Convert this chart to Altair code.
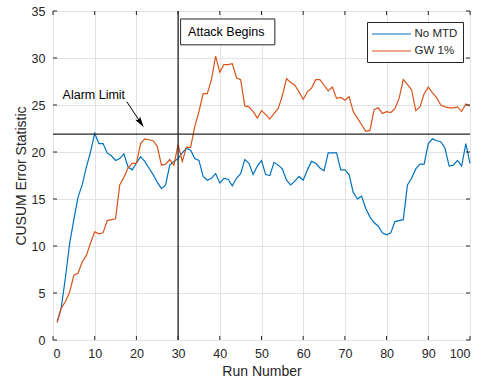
import altair as alt
import pandas as pd

# ---------------- data ----------------
runs = list(range(1, 101))
no_mtd = [1.95, 3.5, 6.7, 10.3, 12.8, 15.2, 16.5, 18.4, 20.0, 22.0,
          20.9, 20.9, 19.9, 19.6, 19.1, 19.3, 19.8, 18.4, 18.1, 18.8,
          19.5, 19.0, 18.3, 17.6, 16.8, 16.1, 16.5, 18.6, 19.0, 19.3,
          19.9, 20.4, 20.2, 19.3, 19.1, 17.4, 17.0, 17.2, 17.7, 16.7,
          17.2, 17.1, 16.4, 17.2, 17.7, 19.2, 18.8, 17.6, 18.5, 19.1,
          17.6, 17.5, 18.9, 18.6, 18.2, 17.0, 16.5, 16.9, 17.4, 17.0,
          18.1, 19.0, 18.8, 18.3, 18.0, 19.9, 19.9, 19.9, 18.1, 18.1,
          17.6, 15.7, 15.0, 15.3, 14.0, 13.1, 12.5, 12.1, 11.4, 11.2,
          11.4, 12.6, 12.7, 12.8, 16.5, 17.2, 18.2, 18.7, 18.7, 20.9,
          21.4, 21.2, 21.1, 20.4, 18.5, 18.6, 19.1, 18.5, 20.9, 18.8]
gw_1 = [1.85, 3.4, 4.1, 5.1, 6.9, 7.1, 8.3, 9.0, 10.3, 11.5,
        11.3, 11.4, 12.7, 12.8, 12.9, 16.5, 17.3, 18.3, 18.8, 18.8,
        20.9, 21.4, 21.3, 21.2, 20.6, 18.6, 18.7, 19.2, 18.6, 20.8,
        19.0, 20.5, 20.5, 22.7, 24.3, 26.2, 26.2, 27.7, 30.2, 28.5,
        29.3, 29.3, 29.4, 27.9, 27.7, 24.9, 24.8, 24.3, 23.6, 24.4,
        24.0, 23.5, 24.1, 24.6, 26.0, 27.8, 27.4, 27.1, 26.4, 25.6,
        26.4, 26.8, 27.7, 27.7, 27.1, 26.5, 26.9, 25.7, 25.8, 25.5,
        25.9, 24.3, 23.6, 22.9, 22.2, 22.3, 24.5, 24.7, 24.1, 24.3,
        24.2, 24.6, 25.7, 27.7, 27.2, 26.6, 24.4, 24.8, 26.2, 26.9,
        26.3, 25.8, 25.0, 24.8, 24.7, 24.7, 24.8, 24.3, 25.1, 24.9]
series_names = ["No MTD", "GW 1%"]
series_colors = ["#0072BD", "#D95319"]
x_ticks = list(range(0, 101, 10))
y_ticks = list(range(0, 36, 5))
alarm_limit = [21.9]
attack_start = [30]
alarm_text = ["Alarm Limit"]
alarm_text_pos = [2.3, 26.1]
arrow_x = [17.7, 20.9]
arrow_y = [25.35, 23.2]
arrow_angle = [146]
attack_text = ["Attack Begins"]
attack_text_pos = [32.4, 32.75]
attack_box_x = [30.6, 53.2]
attack_box_y = [31.4, 34.15]

FONT = "Liberation Sans"
W, H = 417, 329
DARK = "#262626"

df = pd.DataFrame({
    "run": runs * 2,
    "value": no_mtd + gw_1,
    "series": [series_names[0]] * len(runs) + [series_names[1]] * len(runs),
})

xs = alt.Scale(domain=[0, 100], nice=False, zero=False)
ys = alt.Scale(domain=[0, 35], nice=False, zero=False)

lines = alt.Chart(df).mark_line(strokeWidth=1.2).encode(
    x=alt.X("run:Q", scale=xs,
            axis=alt.Axis(values=x_ticks, title="Run Number", grid=True,
                          gridColor="#e3e3e3", tickSize=0, domain=False,
                          labelFont=FONT, labelFontSize=12.5, labelColor=DARK,
                          labelPadding=7, titleFont=FONT, titleFontSize=14,
                          titleFontWeight="normal", titleColor=DARK, titlePadding=5)),
    y=alt.Y("value:Q", scale=ys,
            axis=alt.Axis(values=y_ticks, title="CUSUM Error Statistic", grid=True,
                          gridColor="#e3e3e3", tickSize=0, domain=False,
                          labelFont=FONT, labelFontSize=12.5, labelColor=DARK,
                          labelPadding=8, titleFont=FONT, titleFontSize=14,
                          titleFontWeight="normal", titleColor=DARK, titlePadding=3)),
    color=alt.Color("series:N",
                    scale=alt.Scale(domain=series_names, range=series_colors),
                    legend=alt.Legend(title=None, orient="none", legendX=314, legendY=11,
                                      strokeColor=DARK, fillColor="white", padding=5,
                                      symbolType="M-3.25,0H3.25", symbolSize=144,
                                      symbolOffset=12.5,
                                      symbolStrokeWidth=1.2, labelFont=FONT,
                                      labelFontSize=11.5, labelColor=DARK, labelOffset=16,
                                      labelAlign="left", rowPadding=4)),
    detail="series:N",
)

hline = alt.Chart(pd.DataFrame({"y": alarm_limit})).mark_rule(
    color=DARK, strokeWidth=1.3).encode(y=alt.Y("y:Q", scale=ys))
vline = alt.Chart(pd.DataFrame({"x": attack_start})).mark_rule(
    color=DARK, strokeWidth=1.3).encode(x=alt.X("x:Q", scale=xs))

arrow_line = alt.Chart(pd.DataFrame({"x": arrow_x, "y": arrow_y, "o": [0, 1]})).mark_line(
    color="black", strokeWidth=1).encode(
    x=alt.X("x:Q", scale=xs), y=alt.Y("y:Q", scale=ys), order="o:Q")
arrow_head = alt.Chart(pd.DataFrame({"x": [arrow_x[1]], "y": [arrow_y[1]]})).mark_point(
    shape="M0,-1L0.45,0.7L0,0.35L-0.45,0.7Z", filled=True, fill="black", color="black",
    opacity=1, size=169, angle=arrow_angle[0]).encode(
    x=alt.X("x:Q", scale=xs), y=alt.Y("y:Q", scale=ys))

alarm_label = alt.Chart(pd.DataFrame({"x": [alarm_text_pos[0]], "y": [alarm_text_pos[1]],
                                      "t": alarm_text})).mark_text(
    align="left", baseline="middle", font=FONT, fontSize=12.5, color="black").encode(
    x=alt.X("x:Q", scale=xs), y=alt.Y("y:Q", scale=ys), text="t:N")

attack_box = alt.Chart(pd.DataFrame({"x": [attack_box_x[0]], "x2": [attack_box_x[1]],
                                     "y": [attack_box_y[0]], "y2": [attack_box_y[1]]})).mark_rect(
    fill="white", stroke=DARK, strokeWidth=1).encode(
    x=alt.X("x:Q", scale=xs), x2="x2:Q", y=alt.Y("y:Q", scale=ys), y2="y2:Q")
attack_label = alt.Chart(pd.DataFrame({"x": [attack_text_pos[0]], "y": [attack_text_pos[1]],
                                       "t": attack_text})).mark_text(
    align="left", baseline="middle", font=FONT, fontSize=12.5, color="black").encode(
    x=alt.X("x:Q", scale=xs), y=alt.Y("y:Q", scale=ys), text="t:N")

# inward ticks on all four sides
xt = pd.DataFrame({"x": x_ticks})
yt = pd.DataFrame({"y": y_ticks})
tick_b = alt.Chart(xt).mark_rule(color=DARK, strokeWidth=1).encode(
    x=alt.X("x:Q", scale=xs), y=alt.value(H), y2=alt.value(H - 4))
tick_t = alt.Chart(xt).mark_rule(color=DARK, strokeWidth=1).encode(
    x=alt.X("x:Q", scale=xs), y=alt.value(0), y2=alt.value(4))
tick_l = alt.Chart(yt).mark_rule(color=DARK, strokeWidth=1).encode(
    y=alt.Y("y:Q", scale=ys), x=alt.value(0), x2=alt.value(4))
tick_r = alt.Chart(yt).mark_rule(color=DARK, strokeWidth=1).encode(
    y=alt.Y("y:Q", scale=ys), x=alt.value(W - 4), x2=alt.value(W))

chart = alt.layer(
    lines, hline, vline, tick_b, tick_t, tick_l, tick_r,
    arrow_line, arrow_head, alarm_label, attack_box, attack_label
).properties(
    width=W, height=H,
    autosize=alt.AutoSizeParams(type="none"),
    padding={"left": 53, "top": 11, "right": 8, "bottom": 44},
    background="white",
).configure_view(stroke=DARK, strokeWidth=1)

chart.save("out.html", embed_options={"renderer": "svg", "actions": False})
